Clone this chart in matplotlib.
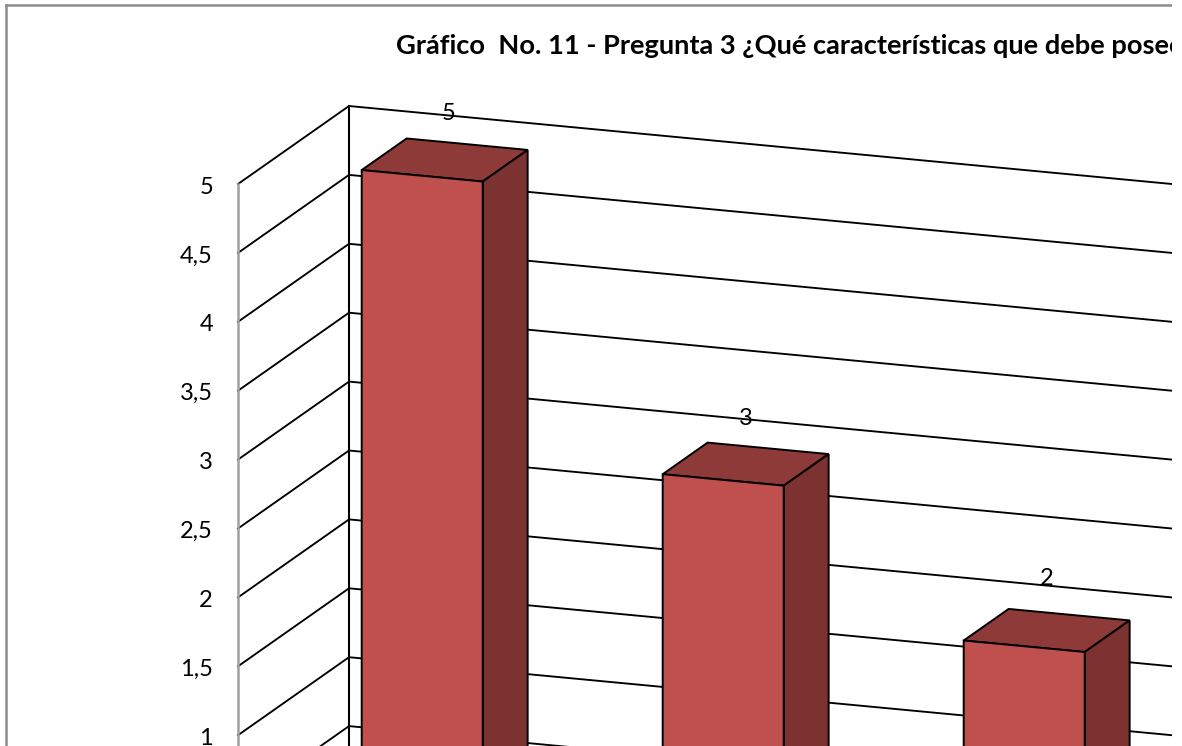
import matplotlib
matplotlib.use('Agg')
import matplotlib.pyplot as plt
from matplotlib.patches import Polygon, Rectangle

plt.rcParams['font.family'] = ['Lato', 'DejaVu Sans']

# data
bar_values = [5, 3, 2]
bar_labels = ['5', '3', '2']
grid_values = [0, 0.5, 1, 1.5, 2, 2.5, 3, 3.5, 4, 4.5, 5]
tick_values = [1, 1.5, 2, 2.5, 3, 3.5, 4, 4.5, 5]
tick_labels = ['1', '1,5', '2', '2,5', '3', '3,5', '4', '4,5', '5']
title = 'Gráfico  No. 11 - Pregunta 3 ¿Qué características que debe poseer'

# colours
BAR_FRONT = '#C0504D'
BAR_TOP = '#8E3A38'
BAR_SIDE = '#7B3230'
FRAME = '#8C8C8C'
AXIS_GRAY = '#A0A0A0'

# fake 3d projection, everything in picture pixels
FRONT_X = 238
FRONT_Y5 = 184      # pixel row of value 5 on the front edge
UNIT_Y = 137.8      # pixels per unit of value
SLOPE = 0.0948
DEPTH_X = 111
DEPTH_Y = 78
CAT_W = 301
BAR_W = 121
BAR_SHIFT = 1.5
D_FRONT = 0.29
D_BACK = 0.695
RIGHT_EDGE = 1172
LABEL_NUDGE = [(3, 0), (-1, 1), (-1, -5)]


def project(u, value, depth):
    x = FRONT_X + u + DEPTH_X * depth
    y = FRONT_Y5 + SLOPE * u - DEPTH_Y * depth + (5 - value) * UNIT_Y
    return x, y


def draw_bar(ax, clip, i, value):
    u0 = CAT_W * (i + 0.5) - BAR_W / 2 + BAR_SHIFT
    u1 = u0 + BAR_W
    faces = [
        ([(u0, value, D_BACK), (u1, value, D_BACK), (u1, value, D_FRONT), (u0, value, D_FRONT)], BAR_TOP),
        ([(u1, value, D_FRONT), (u1, value, D_BACK), (u1, 0, D_BACK), (u1, 0, D_FRONT)], BAR_SIDE),
        ([(u0, value, D_FRONT), (u1, value, D_FRONT), (u1, 0, D_FRONT), (u0, 0, D_FRONT)], BAR_FRONT),
    ]
    for pts, color in faces:
        poly = Polygon([project(*p) for p in pts], closed=True, facecolor=color,
                       edgecolor='black', linewidth=1.4, joinstyle='miter', zorder=3)
        ax.add_patch(poly)
        poly.set_clip_path(clip)


def main():
    fig = plt.figure(figsize=(11.82, 7.46), dpi=100, facecolor='white')
    ax = fig.add_axes([0, 0, 1, 1])
    ax.set_xlim(0, 1182)
    ax.set_ylim(746, 0)
    ax.axis('off')

    clip = Rectangle((0, 0), RIGHT_EDGE, 746, transform=ax.transData)

    # chart frame
    ax.plot([6, 6], [746, 5], color=FRAME, lw=1.8, zorder=1)
    ln, = ax.plot([6, 1400], [5, 5], color=FRAME, lw=1.8, zorder=1)
    ln.set_clip_path(clip)

    # walls and gridlines
    wall_u = 1400
    for v in grid_values:
        p0 = project(0, v, 0)
        p1 = project(0, v, 1)
        p2 = project(wall_u, v, 1)
        ln, = ax.plot([p0[0], p1[0], p2[0]], [p0[1], p1[1], p2[1]], color='black', lw=1.35, zorder=2)
        ln.set_clip_path(clip)
    top_back = project(0, 5, 1)
    bottom_back = project(0, 0, 1)
    ax.plot([top_back[0], bottom_back[0]], [top_back[1], bottom_back[1]], color='black', lw=1.5, zorder=2)
    top_front = project(0, 5, 0)
    bottom_front = project(0, 0, 0)
    ax.plot([top_front[0], bottom_front[0]], [top_front[1], bottom_front[1]], color=AXIS_GRAY, lw=1.8, zorder=2)

    # value axis labels
    for v, lab in zip(tick_values, tick_labels):
        x, y = project(0, v, 0)
        ax.text(x - 25, y + 3, lab, ha='right', va='center', fontsize=17, color='black', zorder=4)

    for i, v in enumerate(bar_values):
        draw_bar(ax, clip, i, v)

    # data labels, drawn over the gridlines
    for i, (v, lab) in enumerate(zip(bar_values, bar_labels)):
        x, y = project(CAT_W * (i + 0.5) + BAR_SHIFT, v, 0.5)
        dx, dy = LABEL_NUDGE[i]
        ax.text(x + dx, y - 46 + dy, lab, ha='center', va='center', fontsize=17, color='black', zorder=5)

    t = ax.text(396, 46, title, ha='left', va='center', fontsize=19.6, fontweight='bold',
                color='black', zorder=5, clip_on=True)
    t.set_clip_path(clip)

    fig.savefig('out.png', dpi=100)
    plt.close(fig)


if __name__ == '__main__':
    main()
